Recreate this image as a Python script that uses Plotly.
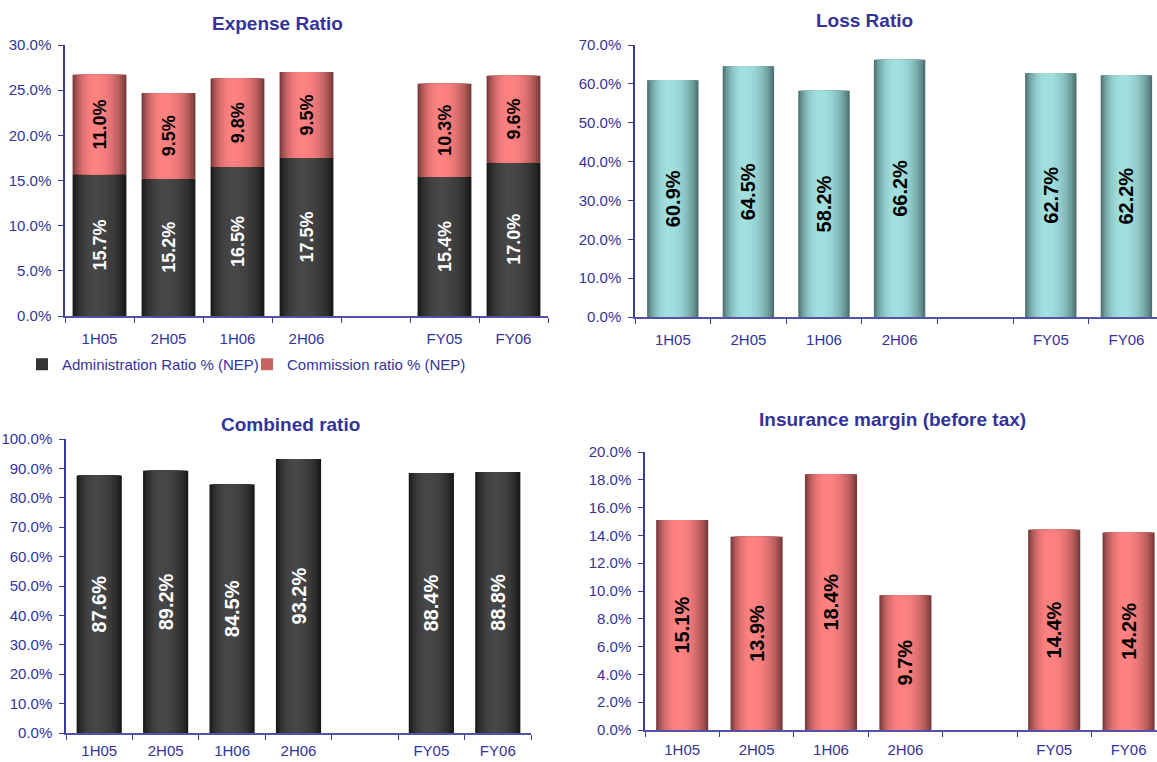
import math
import plotly.graph_objects as go

# ---------------- data ----------------
categories = ["1H05", "2H05", "1H06", "2H06", " ", "FY05", "FY06"]
admin_ratio = [15.7, 15.2, 16.5, 17.5, None, 15.4, 17.0]
commission_ratio = [11.0, 9.5, 9.8, 9.5, None, 10.3, 9.6]
loss_ratio = [60.9, 64.5, 58.2, 66.2, None, 62.7, 62.2]
combined_ratio = [87.6, 89.2, 84.5, 93.2, None, 88.4, 88.8]
insurance_margin = [15.1, 13.9, 18.4, 9.7, None, 14.4, 14.2]

series_names = ["Administration Ratio % (NEP)", "Commission ratio % (NEP)"]
chart_titles = ["Expense Ratio", "Loss Ratio", "Combined ratio", "Insurance margin (before tax)"]

# ---------------- styles ----------------
FONT = "Liberation Sans"
NAVY = "#333399"
AXIS = "#3a3a9c"
XLINE = "#5252aa"
N_LAYERS = 14

DARK = ("#121212", "#474747")
PINK = ("#663030", "#ff8282")
TEAL = ("#416262", "#a2e0e0")


def hex2rgb(h):
    h = h.lstrip("#")
    return [int(h[i:i + 2], 16) for i in (0, 2, 4)]


def mix(c1, c2, t):
    a, b = hex2rgb(c1), hex2rgb(c2)
    return "rgb({},{},{})".format(*[round(a[i] + (b[i] - a[i]) * t) for i in range(3)])


fig = go.Figure()


def add_cylinder(xa, ya, values, colors, W, base=None, legend_name=None, legend_id="legend"):
    edge, center = colors
    c = -0.08 * W  # highlight slightly left of centre
    for k in range(N_LAYERS):
        s = 1 - k / N_LAYERS
        left = c - (c + W / 2) * s
        right = c + (W / 2 - c) * s
        xm = 1 - (k + 0.5) / N_LAYERS
        f = (1 - xm * xm) ** 0.75
        col = mix(edge, center, f)
        show = legend_name is not None and k == N_LAYERS // 3
        fig.add_trace(go.Bar(
            x=categories, y=values, base=base, offset=left, width=right - left,
            marker=dict(color=col, line=dict(width=0)),
            xaxis=xa, yaxis=ya, name=legend_name if show else "",
            showlegend=show, legend=legend_id, hoverinfo="skip",
        ))


def add_labels(xa, ya, values, W, color, size, base=None):
    fig.add_trace(go.Bar(
        x=categories, y=values, base=base, width=W,
        marker=dict(color="rgba(0,0,0,0)", line=dict(width=0)),
        text=["" if v is None else "<b>{:.1f}%</b>".format(v) for v in values],
        textposition="inside", insidetextanchor="middle", textangle=-90,
        constraintext="none",
        insidetextfont=dict(family=FONT, size=size, color=color),
        xaxis=xa, yaxis=ya, showlegend=False, hoverinfo="skip",
    ))


# Expense ratio (stacked)
add_cylinder("x", "y", admin_ratio, DARK, 0.78, legend_name=series_names[0], legend_id="legend")
add_cylinder("x", "y", commission_ratio, PINK, 0.78, base=admin_ratio,
             legend_name=series_names[1], legend_id="legend2")
add_labels("x", "y", admin_ratio, 0.78, "white", 18)
add_labels("x", "y", commission_ratio, 0.78, "black", 18, base=admin_ratio)

# Loss ratio
add_cylinder("x2", "y2", loss_ratio, TEAL, 0.68)
add_labels("x2", "y2", loss_ratio, 0.68, "black", 20)

# Combined ratio
add_cylinder("x3", "y3", combined_ratio, DARK, 0.68)
add_labels("x3", "y3", combined_ratio, 0.68, "white", 20)

# Insurance margin
add_cylinder("x4", "y4", insurance_margin, PINK, 0.70)
add_labels("x4", "y4", insurance_margin, 0.70, "black", 20)

W_PX, H_PX = 1157, 762


def xdom(l, r):
    return [l / W_PX, min(r / W_PX, 1.0)]


def ydom(bottom, top):
    return [1 - bottom / H_PX, 1 - top / H_PX]


def xaxis(dom, anchor, rng, standoff=8):
    return dict(type="category", categoryorder="array", categoryarray=categories,
                range=rng, domain=dom, anchor=anchor, showline=True,
                linecolor=XLINE, linewidth=2, ticks="outside", tickson="boundaries",
                ticklen=5, tickcolor=AXIS, tickwidth=1, automargin=False,
                tickfont=dict(family=FONT, size=15, color=NAVY),
                showgrid=False, zeroline=False, ticklabelstandoff=standoff, fixedrange=True)


def yaxis(dom, anchor, top, dtick):
    return dict(range=[0, top], dtick=dtick, tickformat=".1f", ticksuffix="%",
                domain=dom, anchor=anchor, showline=True, linecolor=AXIS, linewidth=1.5,
                ticks="outside", ticklen=5, tickcolor=AXIS, automargin=False,
                tickfont=dict(family=FONT, size=15, color=NAVY),
                showgrid=False, zeroline=False, ticklabelstandoff=4, fixedrange=True)


# chart 2 & 4 extend beyond the right edge of the page
r2 = -0.5 + (W_PX - 635) / 75.6
r4 = -0.5 + (W_PX - 645) / 74.4

legend_common = dict(orientation="h", xanchor="left", yanchor="top",
                     font=dict(family=FONT, size=15, color=NAVY), bgcolor="rgba(0,0,0,0)",
                     itemwidth=30, tracegroupgap=0)

fig.update_layout(
    width=W_PX, height=H_PX, autosize=False,
    margin=dict(l=0, r=0, t=0, b=0, autoexpand=False),
    paper_bgcolor="white", plot_bgcolor="white",
    barmode="overlay",
    xaxis=xaxis(xdom(65, 548), "y", [-0.5, 6.5]),
    yaxis=yaxis(ydom(316, 45), "x", 30, 5),
    xaxis2=xaxis(xdom(635, 1157), "y2", [-0.5, r2]),
    yaxis2=yaxis(ydom(317, 45), "x2", 70, 10),
    xaxis3=xaxis(xdom(66, 531), "y3", [-0.5, 6.5], standoff=3),
    yaxis3=yaxis(ydom(733, 439), "x3", 100, 10),
    xaxis4=xaxis(xdom(645, 1157), "y4", [-0.5, r4], standoff=5),
    yaxis4=yaxis(ydom(730, 452), "x4", 20, 2),
    legend=dict(x=22 / W_PX, y=1 - 348 / H_PX, **legend_common),
    legend2=dict(x=247 / W_PX, y=1 - 348 / H_PX, **legend_common),
    showlegend=True,
)

title_pos = [(277, 24), (864, 20), (290, 424), (892, 419)]
for t, (px, py) in zip(chart_titles, title_pos):
    fig.add_annotation(text="<b>{}</b>".format(t), x=px / W_PX, y=1 - py / H_PX,
                       xref="paper", yref="paper", xanchor="center", yanchor="middle",
                       showarrow=False, font=dict(family=FONT, size=19, color=NAVY))

fig.write_html("out.html")
